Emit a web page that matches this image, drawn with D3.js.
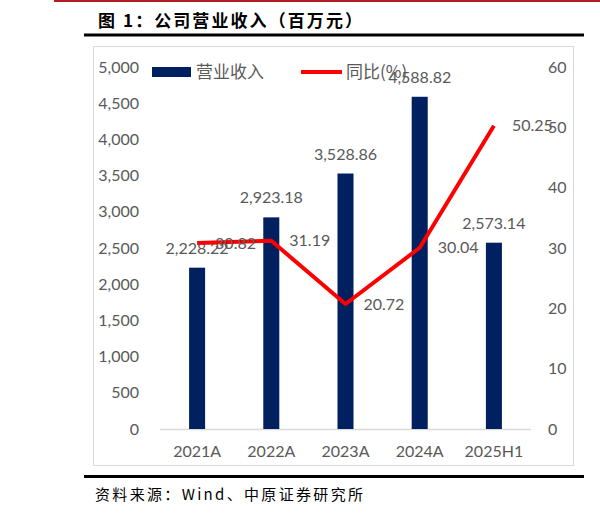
<!DOCTYPE html>
<html><head><meta charset="utf-8">
<script src="https://cdn.jsdelivr.net/npm/d3@7"></script>
<style>body{margin:0;background:#fff}svg{display:block}</style>
</head><body>
<svg id="c" width="600" height="513"></svg>
<script>
const categories = ["2021A","2022A","2023A","2024A","2025H1"];
const revenue = [2228.22, 2923.18, 3528.86, 4588.82, 2573.14];
const yoy = [30.82, 31.19, 20.72, 30.04, 50.25];
const leftTicks = [0,500,1000,1500,2000,2500,3000,3500,4000,4500,5000];
const rightTicks = [0,10,20,30,40,50,60];
const seriesNames = ["营业收入","同比(%)"];
const title = "图 1：公司营业收入（百万元）";
const source = "资料来源：Wind、中原证券研究所";

const svg = d3.select("#c");
const numFont = "Lato, 'Open Sans', sans-serif";
const cjkFont = "'Noto Sans CJK SC', sans-serif";
const gray = "#595959";
const navy = "#002060";
const red = "#FF0000";

// header / footer decorations
svg.append("line").attr("x1",54).attr("x2",600).attr("y1",1).attr("y2",1).attr("stroke","#B01F24").attr("stroke-width",2);
svg.append("text").attr("x",98).attr("y",27).attr("font-family",cjkFont).attr("font-weight","bold")
  .attr("font-size",17).attr("fill","#000").attr("textLength",264).attr("lengthAdjust","spacing").text(title);
svg.append("line").attr("x1",84).attr("x2",584).attr("y1",35).attr("y2",35).attr("stroke","#000").attr("stroke-width",3);
svg.append("rect").attr("x",93.5).attr("y",46.5).attr("width",480).attr("height",419).attr("fill","none").attr("stroke","#d9d9d9");
svg.append("line").attr("x1",84).attr("x2",584).attr("y1",476.5).attr("y2",476.5).attr("stroke","#000").attr("stroke-width",3);
svg.append("text").attr("x",95).attr("y",500).attr("font-family",cjkFont)
  .attr("font-size",15).attr("fill","#000").attr("textLength",268).attr("lengthAdjust","spacing").text(source);

// scales
const x = d3.scaleBand().domain(categories).range([160,531]).paddingInner(0.784).paddingOuter(0.392);
const yL = d3.scaleLinear().domain([0,5000]).range([429,67]);
const yR = d3.scaleLinear().domain([0,60]).range([429,67]);
const cx = d => x(d) + x.bandwidth()/2;

// axes
const fmt = d3.format(",");
const leftAxis = svg.append("g").attr("transform","translate(139,0)")
  .call(d3.axisLeft(yL).tickValues(leftTicks).tickFormat(fmt).tickSize(0).tickPadding(0));
const rightAxis = svg.append("g").attr("transform","translate(548,0)")
  .call(d3.axisRight(yR).tickValues(rightTicks).tickSize(0).tickPadding(0));
const bottomAxis = svg.append("g").attr("transform","translate(0,429)")
  .call(d3.axisBottom(x).tickSize(0).tickPadding(17));
[leftAxis,rightAxis,bottomAxis].forEach(g=>{
  g.select(".domain").remove();
  g.selectAll("text").attr("font-family",numFont).attr("font-size",16).attr("fill",gray);
});
bottomAxis.append("line").attr("x1",160).attr("x2",531).attr("y1",0.5).attr("y2",0.5).attr("stroke","#d9d9d9").attr("stroke-width",1.5).lower();

// bars
svg.append("g").selectAll("rect").data(revenue).join("rect")
  .attr("x",(d,i)=>x(categories[i])).attr("width",x.bandwidth())
  .attr("y",d=>yL(d)).attr("height",d=>yL(0)-yL(d)).attr("fill",navy);

// bar labels
svg.append("g").selectAll("text").data(revenue).join("text")
  .attr("x",(d,i)=>cx(categories[i])).attr("y",d=>yL(d)-14)
  .attr("text-anchor","middle").attr("font-family",numFont).attr("font-size",16).attr("fill",gray)
  .text(d=>d3.format(",.2f")(d));

// line
const line = d3.line().x((d,i)=>cx(categories[i])).y(d=>yR(d));
svg.append("path").datum(yoy).attr("d",line).attr("fill","none").attr("stroke",red)
  .attr("stroke-width",4).attr("stroke-linejoin","round").attr("stroke-linecap","butt");

// line labels
svg.append("g").selectAll("text").data(yoy).join("text")
  .attr("x",(d,i)=>cx(categories[i])+18).attr("y",d=>yR(d)).attr("dy","0.35em")
  .attr("font-family",numFont).attr("font-size",16).attr("fill",gray)
  .text(d=>d3.format(".2f")(d));

// legend
const lg = svg.append("g");
lg.append("rect").attr("x",152).attr("y",67).attr("width",39).attr("height",10).attr("fill",navy);
lg.append("text").attr("x",196).attr("y",72).attr("dy","0.35em").attr("font-family",cjkFont)
  .attr("font-size",17).attr("fill",gray).text(seriesNames[0]);
lg.append("line").attr("x1",301).attr("x2",342).attr("y1",72).attr("y2",72).attr("stroke",red).attr("stroke-width",4);
lg.append("text").attr("x",346).attr("y",72).attr("dy","0.35em").attr("font-family",cjkFont)
  .attr("font-size",17).attr("fill",gray).text(seriesNames[1]);
</script>
</body></html>
